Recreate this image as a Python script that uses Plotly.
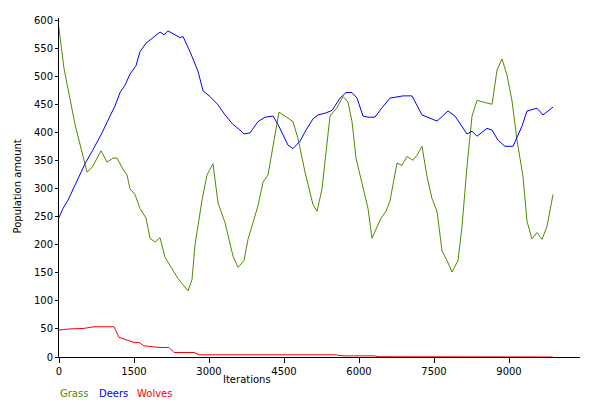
import plotly.graph_objects as go

def px_to_x(p):
    return (p - 59) * 20

# Grass (px position along x, value)
grass_px = [58, 64, 75, 87, 92, 101, 107, 113, 117, 123, 127, 130, 135, 140, 146, 150, 155, 160, 165,
            178, 188, 192, 195, 202, 207, 213, 218, 225, 233, 238, 244, 248, 258, 263, 268, 273, 279,
            285, 293, 298, 305, 313, 317, 322, 330, 337, 343, 348, 352, 356, 362, 368, 372, 377, 381,
            386, 390, 397, 402, 407, 413, 417, 422, 427, 432, 437, 442, 447, 452, 458, 462, 467, 472,
            477, 484, 492, 497, 502, 507, 512, 517, 523, 527, 532, 537, 542, 547, 553]
grass_val = [600, 515, 415, 330, 338, 368, 348, 355, 355, 335, 325, 300, 290, 265, 248, 212, 205, 213, 178,
             140, 118, 138, 200, 280, 325, 345, 275, 240, 180, 160, 172, 210, 270, 312, 325, 375, 437,
             430, 420, 390, 330, 272, 260, 300, 430, 445, 465, 455, 420, 355, 312, 265, 212, 232, 248,
             260, 279, 346, 342, 358, 351, 360, 376, 322, 283, 260, 190, 172, 152, 172, 233, 340, 430,
             458, 455, 451, 512, 532, 503, 457, 387, 322, 242, 211, 222, 210, 233, 290]

deer_px = [58, 63, 68, 73, 78, 85, 93, 102, 110, 115, 120, 125, 130, 136, 140, 146, 153, 160, 164, 168,
           175, 180, 183, 190, 198, 203, 210, 218, 225, 233, 240, 244, 250, 258, 265, 273, 278, 283,
           288, 293, 300, 306, 313, 318, 325, 332, 340, 346, 352, 357, 363, 368, 375, 382, 390, 403,
           412, 422, 437, 448, 455, 467, 472, 477, 487, 492, 498, 505, 513, 522, 527, 537, 543, 553]
deer_val = [245, 265, 280, 300, 318, 345, 370, 400, 430, 448, 472, 485, 505, 520, 545, 560, 570, 580, 575, 582,
            575, 570, 572, 545, 510, 475, 465, 450, 432, 415, 405, 398, 400, 420, 428, 430, 415, 395,
            378, 372, 385, 405, 425, 432, 435, 440, 462, 472, 472, 462, 430, 428, 428, 445, 462, 466,
            466, 432, 421, 439, 430, 398, 403, 394, 408, 405, 387, 376, 376, 412, 439, 444, 432, 446]

wolf_x = [0, 200, 500, 700, 1100, 1200, 1300, 1500, 1600, 1700, 2000, 2200, 2300, 2700, 2800, 5500,
          5700, 6300, 6400, 9000, 9100, 9880]
wolf_val = [48, 50, 51, 54, 54, 35, 32, 26, 26, 20, 17, 17, 8, 8, 4, 4, 2, 2, 0.5, 0.5, 0, 0]

FONT = "DejaVu Sans"

fig = go.Figure()
fig.add_trace(go.Scatter(x=[px_to_x(p) for p in grass_px], y=grass_val, mode="lines",
                         line=dict(color="#4d8c00", width=1), name="Grass"))
fig.add_trace(go.Scatter(x=[px_to_x(p) for p in deer_px], y=deer_val, mode="lines",
                         line=dict(color="#0000ff", width=1), name="Deers"))
fig.add_trace(go.Scatter(x=wolf_x, y=wolf_val, mode="lines",
                         line=dict(color="#ff0000", width=1), name="Wolves"))

# page adds ~8px offset, so margins are shifted to compensate
fig.update_layout(
    width=600, height=400, showlegend=False,
    plot_bgcolor="white", paper_bgcolor="white",
    margin=dict(l=51, r=28, t=7, b=51),
    font=dict(family=FONT, size=10, color="black"),
)
fig.update_xaxes(range=[0, 10420], tickvals=[0, 1500, 3000, 4500, 6000, 7500, 9000],
                 showgrid=False, zeroline=False, showline=True, linecolor="black",
                 ticks="outside", ticklen=5, tickcolor="black")
fig.update_yaxes(range=[0, 605], tickvals=list(range(0, 601, 50)),
                 showgrid=False, zeroline=False, showline=True, linecolor="black",
                 ticks="outside", ticklen=3, tickcolor="black")

def rel_x(p):
    return (p - 59) / 521

def rel_y(p):
    return (357 - p) / 342

fig.add_annotation(text="Iterations", x=rel_x(247), y=rel_y(380), xref="paper", yref="paper",
                   xanchor="center", yanchor="middle", showarrow=False)
for txt, xp, col in [("Grass", 58, "#4d8c00"), ("Deers", 97, "#0000ff"), ("Wolves", 135, "#ff0000")]:
    fig.add_annotation(text=txt, x=rel_x(xp), y=rel_y(394), xref="paper", yref="paper",
                       xanchor="left", yanchor="middle", showarrow=False, font=dict(color=col))
fig.add_annotation(text="Population amount", x=rel_x(18), y=rel_y(185), xref="paper", yref="paper",
                   xanchor="center", yanchor="middle", textangle=-90, showarrow=False)

fig.write_html("out.html")
